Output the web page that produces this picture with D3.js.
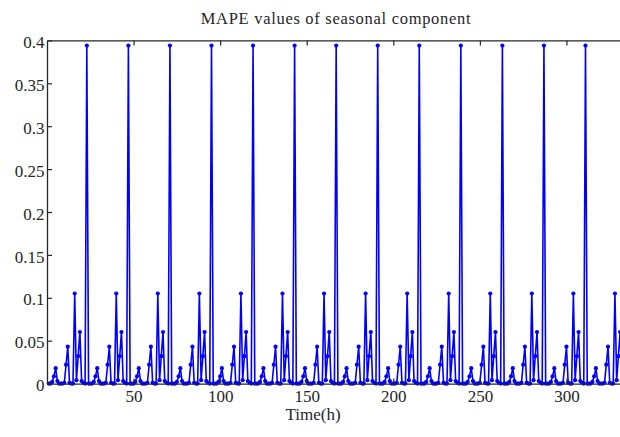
<!DOCTYPE html>
<html>
<head>
<meta charset="utf-8">
<script src="https://cdn.jsdelivr.net/npm/d3@7"></script>
<style>
  body { margin: 0; background: #fff; }
  svg { display: block; }
  text { font-family: "Liberation Serif", "Times New Roman", serif; fill: #262626; }
</style>
</head>
<body>
<div id="chart"></div>
<script>
// one day of the seasonal component, hours 1..24
const dailyMape = [
  0, 0, 0.002, 0.0085, 0.018, 0.003, 0, 0,
  0, 0.001, 0.022, 0.043, 0.001, 0, 0, 0.105,
  0.004, 0.032, 0.06, 0.003, 0.001, 0, 0.394, 0
];
const days = 14;
const xTicks = [50, 100, 150, 200, 250, 300];
const yTicks = [0, 0.05, 0.1, 0.15, 0.2, 0.25, 0.3, 0.35, 0.4];

// the seasonal component repeats the same daily profile every 24 h
const series = [];
for (let d = 0; d < days; d++) {
  dailyMape.forEach((v, i) => series.push({ t: d * 24 + i + 1, v: v }));
}

const width = 620;
const height = 437;
const plotLeft = 47, plotTop = 40.4, plotBottom = 383.6;
const plotRight = plotLeft + 336 * 1.7315;

const svg = d3
  .select("#chart")
  .append("svg")
  .attr("width", width)
  .attr("height", height);

const x = d3.scaleLinear().domain([0, 336]).range([plotLeft, plotRight]);
const y = d3.scaleLinear().domain([0, 0.4]).range([plotBottom, plotTop]);

// title
svg
  .append("text")
  .attr("x", 336)
  .attr("y", 23.5)
  .attr("text-anchor", "middle")
  .style("font-size", "16.5px")
  .style("letter-spacing", "0.7px")
  .text("MAPE values of seasonal component");

// data line + dots
svg
  .append("path")
  .datum(series)
  .attr("fill", "none")
  .attr("stroke", "#0000ff")
  .attr("stroke-width", 1.6)
  .attr("d", d3.line().x((d) => x(d.t)).y((d) => y(d.v)));

svg
  .selectAll("circle.pt")
  .data(series)
  .enter()
  .append("circle")
  .attr("class", "pt")
  .attr("cx", (d) => x(d.t))
  .attr("cy", (d) => y(d.v))
  .attr("r", 2.1)
  .attr("fill", "#0000ff");

// axes (MATLAB box style, ticks inside)
const fmt = (d) => (d === 0 ? "0" : String(+d.toFixed(2)));

const gx = svg
  .append("g")
  .attr("transform", `translate(0, ${plotBottom})`)
  .call(d3.axisBottom(x).tickValues(xTicks).tickSize(-5).tickPadding(6).tickSizeOuter(0));

const gy = svg
  .append("g")
  .attr("transform", `translate(${plotLeft}, 0)`)
  .call(d3.axisLeft(y).tickValues(yTicks).tickFormat(fmt).tickSize(-5).tickPadding(2.5).tickSizeOuter(0));

const gt = svg
  .append("g")
  .attr("transform", `translate(0, ${plotTop})`)
  .call(d3.axisTop(x).tickValues(xTicks).tickSize(-5).tickFormat("").tickSizeOuter(0));

const gr = svg
  .append("g")
  .attr("transform", `translate(${plotRight}, 0)`)
  .call(d3.axisRight(y).tickValues(yTicks).tickSize(-5).tickFormat("").tickSizeOuter(0));

[gx, gy, gt, gr].forEach((g) => {
  g.selectAll(".domain").attr("stroke", "#262626").attr("stroke-width", 1.3);
  g.selectAll(".tick line").attr("stroke", "#262626").attr("stroke-width", 1.2);
  g.selectAll(".tick text")
    .style("font-size", "17px")
    .style("font-family", '"Liberation Serif", "Times New Roman", serif')
    .attr("fill", "#262626");
});
gy.selectAll(".tick text").attr("dy", "0.42em");

// x label
svg
  .append("text")
  .attr("x", 313)
  .attr("y", 420)
  .attr("text-anchor", "middle")
  .style("font-size", "17px")
  .text("Time(h)");
</script>
</body>
</html>
